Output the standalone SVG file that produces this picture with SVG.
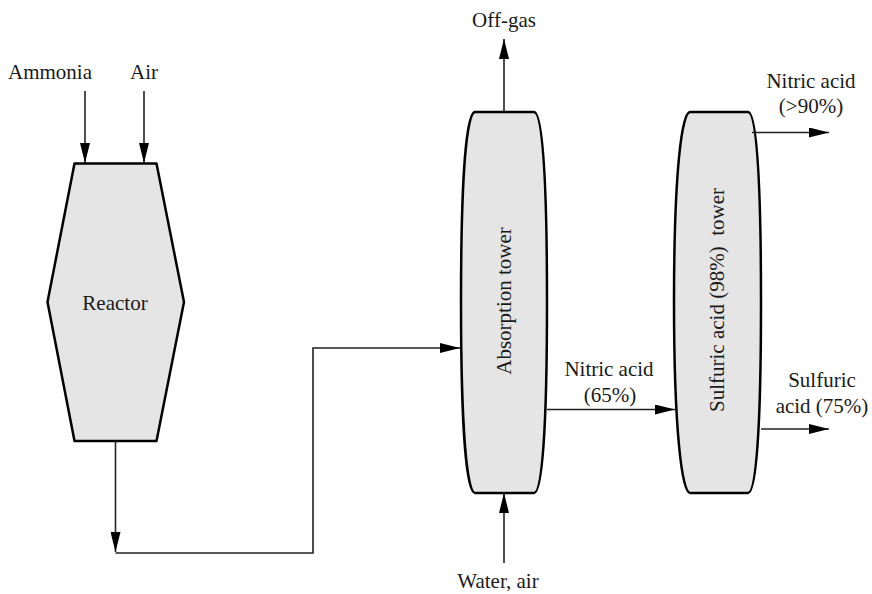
<svg xmlns="http://www.w3.org/2000/svg" width="872" height="594" viewBox="0 0 872 594">
<style>
.unit{fill:#e5e5e5;stroke:#000;stroke-width:2.5;stroke-linejoin:round}
.t{font-size:21px;fill:#1a1a1a}
.c{text-anchor:middle}
.ln{fill:none;stroke:#222;stroke-width:1.6}
</style>
<defs>
<marker id="ah" viewBox="0 0 20 10" refX="20" refY="5" markerWidth="20" markerHeight="10" markerUnits="userSpaceOnUse" orient="auto">
<path d="M0,0 L20,5 L0,10 Z" fill="#000"/>
</marker>
</defs>
<rect width="872" height="594" fill="#fff"/>
<g font-family="'Liberation Serif', 'Times New Roman', 'DejaVu Serif', serif">
<g id="reactor">
<polygon class="unit" points="74.5,163.5 156.5,163.5 184,302 156.5,441 74.5,441 47.5,302"/>
<text class="t c" x="115" y="310">Reactor</text>
</g>
<g id="absorption">
<path class="unit" d="M475,112 L534,112 C542,112 547,170 547,302 C547,430 542,493 534,493 L475,493 C467,493 461,430 461,302 C461,170 467,112 475,112 Z"/>
<text class="t c" transform="translate(504,301) rotate(-90)" x="0" y="7">Absorption tower</text>
</g>
<g id="sulfuric">
<path class="unit" d="M690,112 L748,112 C756,112 761,170 761,302 C761,430 756,493 748,493 L690,493 C682,493 674,430 674,302 C674,170 682,112 690,112 Z"/>
<text class="t c" transform="translate(717,300) rotate(-90)" x="0" y="7" xml:space="preserve">Sulfuric acid (98%)  tower</text>
</g>
<g id="connectors">
<line class="ln" x1="85" y1="91" x2="85" y2="163" marker-end="url(#ah)"/>
<line class="ln" x1="144" y1="91" x2="144" y2="163" marker-end="url(#ah)"/>
<line class="ln" x1="115.5" y1="441" x2="115.5" y2="552" marker-end="url(#ah)"/>
<polyline class="ln" points="115.5,553 313,553 313,348 460,348" marker-end="url(#ah)"/>
<line class="ln" x1="504" y1="112" x2="504" y2="39" marker-end="url(#ah)"/>
<line class="ln" x1="504" y1="563" x2="504" y2="493" marker-end="url(#ah)"/>
<line class="ln" x1="547" y1="409.5" x2="675" y2="409.5" marker-end="url(#ah)"/>
<line class="ln" x1="752" y1="132.5" x2="829" y2="132.5" marker-end="url(#ah)"/>
<line class="ln" x1="761" y1="429" x2="829" y2="429" marker-end="url(#ah)"/>
</g>
<g id="labels">
<text class="t c" x="50" y="79">Ammonia</text>
<text class="t c" x="144" y="79">Air</text>
<text class="t c" x="504" y="27">Off-gas</text>
<text class="t c" x="498" y="588">Water, air</text>
<text class="t c" x="609" y="376">Nitric acid</text>
<text class="t c" x="610" y="402">(65%)</text>
<text class="t c" x="811" y="88">Nitric acid</text>
<text class="t c" x="811" y="113">(&gt;90%)</text>
<text class="t c" x="822" y="387">Sulfuric</text>
<text class="t c" x="822" y="413">acid (75%)</text>
</g>
</g>
</svg>
